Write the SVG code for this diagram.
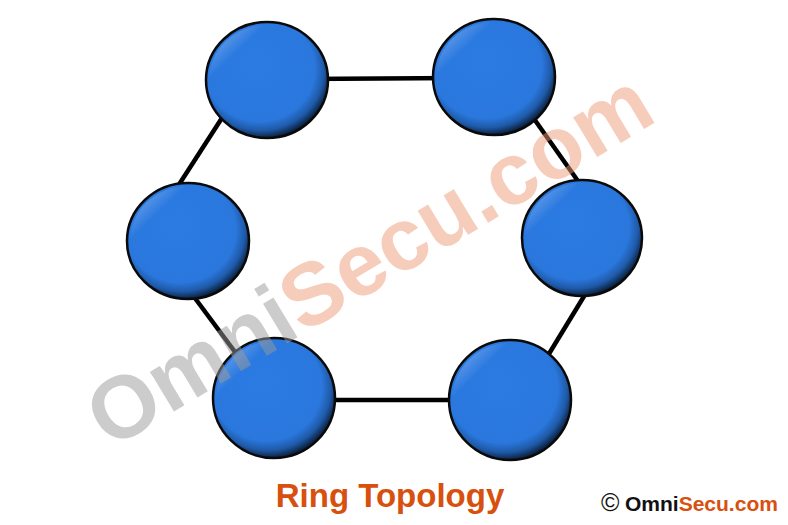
<svg xmlns="http://www.w3.org/2000/svg" width="788" height="525" viewBox="0 0 788 525">
<defs>
<radialGradient id="ball" cx="0.45" cy="0.42" r="0.58" fx="0.4" fy="0.35">
<stop offset="0" stop-color="#2b7be3"/>
<stop offset="0.78" stop-color="#2a78de"/>
<stop offset="0.9" stop-color="#1f5aa8"/>
<stop offset="1" stop-color="#0b2240"/>
</radialGradient>
<linearGradient id="hl" x1="0" y1="0" x2="0.7" y2="0.7">
<stop offset="0" stop-color="#ffffff" stop-opacity="0.45"/>
<stop offset="0.35" stop-color="#ffffff" stop-opacity="0"/>
</linearGradient>
<style>
.node ellipse.b{fill:url(#ball);stroke:#0a0a0a;stroke-width:2.5}
.node ellipse.h{fill:url(#hl)}
.edge{stroke:#000;stroke-width:4.5;fill:none}
.title{font-family:"Liberation Sans",Arial,sans-serif;font-weight:bold;font-size:33px;fill:#d8500e}
.copy{font-family:"Liberation Sans",Arial,sans-serif;font-weight:bold;font-size:21px}
.wm{font-family:"Liberation Sans",Arial,sans-serif;font-weight:bold;font-size:88px}
</style>
</defs>
<rect width="788" height="525" fill="#fff"/>
<g id="connectors">
<line class="edge" x1="300" y1="79" x2="460" y2="78"/>
<line class="edge" x1="520" y1="99" x2="597" y2="208"/>
<line class="edge" x1="600" y1="270" x2="530" y2="385"/>
<line class="edge" x1="300" y1="400" x2="480" y2="400"/>
<line class="edge" x1="180" y1="278" x2="255" y2="379"/>
<line class="edge" x1="160" y1="214" x2="240" y2="90"/>
</g>
<g id="node1" class="node"><ellipse class="b" cx="267" cy="80" rx="61" ry="58"/><ellipse class="h" cx="267" cy="80" rx="58" ry="55"/></g>
<g id="node2" class="node"><ellipse class="b" cx="494" cy="77" rx="61" ry="58"/><ellipse class="h" cx="494" cy="77" rx="58" ry="55"/></g>
<g id="node3" class="node"><ellipse class="b" cx="582" cy="238" rx="60" ry="58"/><ellipse class="h" cx="582" cy="238" rx="57" ry="55"/></g>
<g id="node4" class="node"><ellipse class="b" cx="510" cy="400" rx="61" ry="60"/><ellipse class="h" cx="510" cy="400" rx="58" ry="57"/></g>
<g id="node5" class="node"><ellipse class="b" cx="274" cy="398" rx="61" ry="60"/><ellipse class="h" cx="274" cy="398" rx="58" ry="57"/></g>
<g id="node6" class="node"><ellipse class="b" cx="188" cy="241" rx="61" ry="58"/><ellipse class="h" cx="188" cy="241" rx="58" ry="55"/></g>
<g id="watermark" transform="translate(110,450) rotate(-31)">
<text class="wm" x="0" y="0"><tspan fill="#9a9a9a" fill-opacity="0.5">Omni</tspan><tspan fill="#ee9a78" fill-opacity="0.5">Secu.com</tspan></text>
</g>
<text class="title" x="390" y="507" text-anchor="middle">Ring Topology</text>
<text x="601" y="511" font-family="'Liberation Sans',Arial,sans-serif" font-size="25px" fill="#111">©</text>
<text class="copy" x="625" y="511"><tspan fill="#111">Omni</tspan><tspan fill="#d8500e">Secu.com</tspan></text>
</svg>
